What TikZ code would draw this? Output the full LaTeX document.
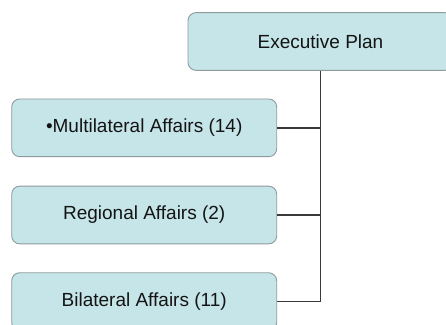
\documentclass[tikz,border=0pt]{standalone}
\usepackage{fontspec}
\setmainfont{Liberation Sans}
\definecolor{boxfill}{HTML}{C6E5E9}
\definecolor{boxdraw}{HTML}{8E9A9C}
\definecolor{linecol}{HTML}{3A3A3A}
\begin{document}
\begin{tikzpicture}[x=1pt,y=-1pt,
  unitbox/.style={draw=boxdraw, line width=0.9pt, fill=boxfill, rounded corners=8pt,
    minimum width=265pt, minimum height=57.7pt, inner sep=0pt, align=center,
    font=\fontsize{19}{22}\selectfont, text=black!92},
  conn/.style={draw=linecol, line width=1.5pt}]
\path[use as bounding box] (0,0) rectangle (446,324);
\clip (0,0) rectangle (446,324);
\node[unitbox] (exec) at (320.5,41.5) {Executive Plan};
\node[unitbox] (b1) at (144.2,127.8) {•Multilateral Affairs (14)};
\node[unitbox] (b2) at (144.2,215.0) {Regional Affairs (2)};
\node[unitbox] (b3) at (144.2,301.6) {Bilateral Affairs (11)};
\draw[conn] (exec.south) |- (b3.east);
\draw[conn] (b1.east) -- (b1.east -| exec.south);
\draw[conn] (b2.east) -- (b2.east -| exec.south);
\end{tikzpicture}
\end{document}
